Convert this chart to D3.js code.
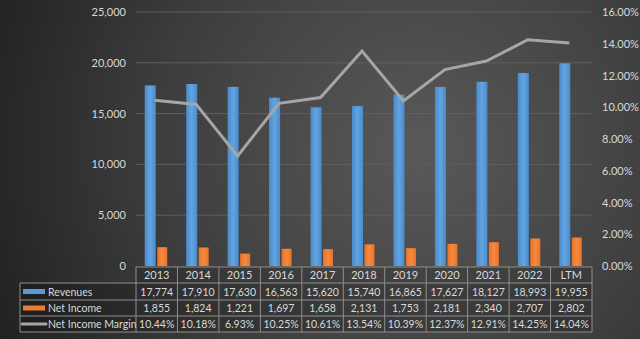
<!DOCTYPE html>
<html><head><meta charset="utf-8">
<script src="https://cdn.jsdelivr.net/npm/d3@7"></script>
<style>body{margin:0;background:#333}svg{display:block}</style>
</head><body>
<script>
const categories = ["2013","2014","2015","2016","2017","2018","2019","2020","2021","2022","LTM"];
const revenues = [17774,17910,17630,16563,15620,15740,16865,17627,18127,18993,19955];
const netIncome = [1855,1824,1221,1697,1658,2131,1753,2181,2340,2707,2802];
const margin = [10.44,10.18,6.93,10.25,10.61,13.54,10.39,12.37,12.91,14.25,14.04];
const leftTicks = [0,5000,10000,15000,20000,25000];
const rightTicks = [0,2,4,6,8,10,12,14,16];

const W=640,H=339;
const svg=d3.select("body").append("svg").attr("width",W).attr("height",H);
const defs=svg.append("defs");
const rg=defs.append("radialGradient").attr("id","bg").attr("gradientUnits","userSpaceOnUse")
  .attr("cx",420).attr("cy",150).attr("r",480);
rg.append("stop").attr("offset","0").attr("stop-color","#595959");
rg.append("stop").attr("offset","0.55").attr("stop-color","#3d3d3d");
rg.append("stop").attr("offset","1").attr("stop-color","#1e1e1e");
svg.append("rect").attr("width",W).attr("height",H).attr("fill","url(#bg)");

const x0=136,x1=592,yTop=12,yBot=266;
const x=d3.scaleBand().domain(categories).range([x0,x1]);
const y=d3.scaleLinear().domain([0,25000]).range([yBot,yTop]);
const y2=d3.scaleLinear().domain([0,16]).range([yBot,yTop]);
const font="Lato, 'Open Sans', sans-serif";
const fs=10.5;
const txt="#d9d9d9";

// gridlines
svg.append("g").selectAll("line").data(leftTicks.filter(d=>d>0)).join("line")
  .attr("x1",x0).attr("x2",x1).attr("y1",d=>y(d)).attr("y2",d=>y(d))
  .attr("stroke","#5f5f5f").attr("stroke-width",1);

// left axis
const la=svg.append("g").attr("transform",`translate(${x0-10},0)`)
  .call(d3.axisLeft(y).tickValues(leftTicks).tickSize(0).tickPadding(0).tickFormat(d3.format(",")));
la.select(".domain").remove();
la.selectAll("text").attr("fill",txt).attr("font-family",font).attr("font-size",fs+0.5);

// right axis
const ra=svg.append("g").attr("transform",`translate(${x1+10},0)`)
  .call(d3.axisRight(y2).tickValues(rightTicks).tickSize(0).tickPadding(0).tickFormat(d=>d.toFixed(2)+"%"));
ra.select(".domain").remove();
ra.selectAll("text").attr("fill",txt).attr("font-family",font).attr("font-size",fs+0.5);

const bw=11;
const bg=defs.append("linearGradient").attr("id","blue").attr("x1",0).attr("x2",1);
bg.append("stop").attr("offset",0).attr("stop-color","#4a8bcb");
bg.append("stop").attr("offset",0.5).attr("stop-color","#62a3e0");
bg.append("stop").attr("offset",1).attr("stop-color","#4a8bcb");
const og=defs.append("linearGradient").attr("id","orange").attr("x1",0).attr("x2",1);
og.append("stop").attr("offset",0).attr("stop-color","#e8732a");
og.append("stop").attr("offset",0.5).attr("stop-color","#f7893e");
og.append("stop").attr("offset",1).attr("stop-color","#e8732a");

svg.append("g").selectAll("rect").data(categories).join("rect")
  .attr("x",(d)=>x(d)+x.bandwidth()/2-bw-1).attr("width",bw)
  .attr("y",(d,i)=>y(revenues[i])).attr("height",(d,i)=>yBot-y(revenues[i]))
  .attr("fill","url(#blue)");
svg.append("g").selectAll("rect").data(categories).join("rect")
  .attr("x",(d)=>x(d)+x.bandwidth()/2+0.5).attr("width",bw-1)
  .attr("y",(d,i)=>y(netIncome[i])).attr("height",(d,i)=>yBot-y(netIncome[i]))
  .attr("fill","url(#orange)");

// line
const line=d3.line().x((d,i)=>x(categories[i])+x.bandwidth()/2-2).y(d=>y2(d));
svg.append("path").datum(margin).attr("d",line).attr("fill","none")
  .attr("stroke","#a6a6a6").attr("stroke-width",3).attr("stroke-linejoin","miter");

// table
const rowsY=[267,283,300,316,332];
const tg=svg.append("g");
const lineC="#8f8f8f";
const rowVals=[revenues.map(d3.format(",")),netIncome.map(d3.format(",")),margin.map(d=>d.toFixed(2)+"%")];
tg.append("rect").attr("x",20).attr("y",rowsY[1]).attr("width",x1-20).attr("height",rowsY[4]-rowsY[1]).attr("fill","rgba(0,0,0,0.18)");
tg.append("rect").attr("x",x0).attr("y",rowsY[0]).attr("width",x1-x0).attr("height",rowsY[1]-rowsY[0]).attr("fill","rgba(0,0,0,0.12)");
tg.append("line").attr("x1",x0).attr("x2",x1).attr("y1",rowsY[0]).attr("y2",rowsY[0]).attr("stroke",lineC);
rowsY.slice(1).forEach(yy=>tg.append("line").attr("x1",20).attr("x2",x1).attr("y1",yy).attr("y2",yy).attr("stroke",lineC));
tg.append("line").attr("x1",20).attr("x2",20).attr("y1",rowsY[1]).attr("y2",rowsY[4]).attr("stroke",lineC);
categories.forEach(c=>tg.append("line").attr("x1",x(c)).attr("x2",x(c)).attr("y1",rowsY[0]).attr("y2",rowsY[4]).attr("stroke",lineC));
tg.append("line").attr("x1",x1).attr("x2",x1).attr("y1",rowsY[0]).attr("y2",rowsY[4]).attr("stroke",lineC);
tg.selectAll(".hd").data(categories).join("text").attr("class","hd")
  .attr("x",d=>x(d)+x.bandwidth()/2).attr("y",(rowsY[0]+rowsY[1])/2+4)
  .attr("text-anchor","middle").attr("fill",txt).attr("font-family",font).attr("font-size",fs+0.5).text(d=>d);
rowVals.forEach((vals,r)=>{
  tg.selectAll(".r"+r).data(vals).join("text").attr("class","r"+r)
    .attr("x",(d,i)=>x(categories[i])+x.bandwidth()/2).attr("y",(rowsY[r+1]+rowsY[r+2])/2+4)
    .attr("text-anchor","middle").attr("fill",txt).attr("font-family",font).attr("font-size",fs).text(d=>d);
});
const names=["Revenues","Net Income","Net Income Margin"];
names.forEach((n,r)=>{
  const cy=(rowsY[r+1]+rowsY[r+2])/2;
  if(r<2) tg.append("rect").attr("x",23).attr("y",cy-2.5).attr("width",22).attr("height",5).attr("fill",r==0?"#5b9bd5":"#ed7d31");
  else tg.append("line").attr("x1",22).attr("x2",46).attr("y1",cy).attr("y2",cy).attr("stroke","#a6a6a6").attr("stroke-width",3).attr("stroke-linecap","round");
  tg.append("text").attr("x",48).attr("y",cy+4).attr("fill",txt).attr("font-family",font).attr("font-size",fs).text(n);
});
</script>
</body></html>
